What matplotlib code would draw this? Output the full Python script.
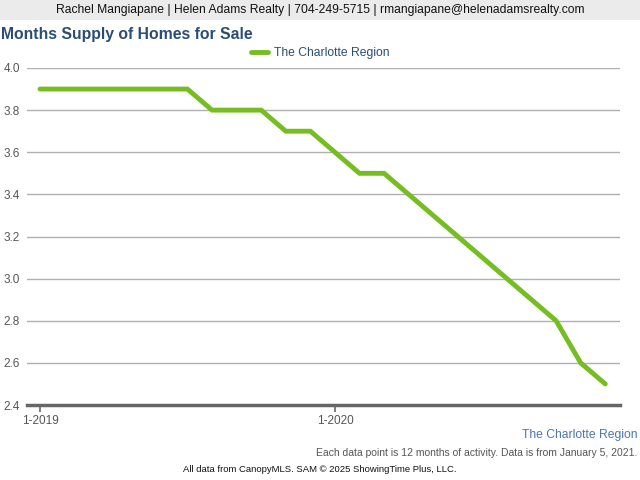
import matplotlib
matplotlib.use("Agg")
import matplotlib.pyplot as plt
from matplotlib.patches import Rectangle

plt.rcParams['font.family'] = ['Liberation Sans', 'DejaVu Sans']

months = list(range(24))
values = [3.9, 3.9, 3.9, 3.9, 3.9, 3.9, 3.9, 3.8, 3.8, 3.8, 3.7, 3.7,
          3.6, 3.5, 3.5, 3.4, 3.3, 3.2, 3.1, 3.0, 2.9, 2.8, 2.6, 2.5]
series_name = "The Charlotte Region"
xtick_pos = [0, 12]
xtick_labels = ["1-2019", "1-2020"]
yticks = [2.4, 2.6, 2.8, 3.0, 3.2, 3.4, 3.6, 3.8, 4.0]

fig = plt.figure(figsize=(6.4, 4.8), dpi=100)
fig.patch.set_facecolor('white')

# header band
fig.patches.append(Rectangle((0, 1 - 20/480), 1, 20/480, transform=fig.transFigure,
                             facecolor='#ebebeb', edgecolor='none', zorder=0))
fig.text(0.5, 1 - 10/480, "Rachel Mangiapane | Helen Adams Realty | 704-249-5715 | rmangiapane@helenadamsrealty.com",
         ha='center', va='center', fontsize=8.7, color='#111111')
fig.text(1/640, 1 - 34/480, "Months Supply of Homes for Sale", ha='left', va='center',
         fontsize=11.3, fontweight='bold', color='#2b4d72')

ax = fig.add_axes([27/640, 1 - 405/480, (620-27)/640, (405-68)/480])
ax.plot(months, values, color='#76bd22', linewidth=3.5, solid_capstyle='round',
        solid_joinstyle='miter', label=series_name, zorder=3)
ax.set_xlim(-0.53, 23.6)
ax.set_ylim(2.4, 4.0)
ax.set_yticks(yticks)
ax.set_yticklabels([f"{v:.1f}" for v in yticks])
ax.yaxis.grid(True, color='#b0b0b0', linewidth=1)
ax.set_axisbelow(True)
for s in ['top', 'right', 'left']:
    ax.spines[s].set_visible(False)
ax.spines['bottom'].set_color('#666666')
ax.spines['bottom'].set_linewidth(2.5)
ax.spines['bottom'].set_zorder(4)
ax.tick_params(axis='y', length=0, pad=5, labelsize=8.5, labelcolor='#555555')
ax.set_xticks(xtick_pos)
ax.set_xticklabels(xtick_labels)
ax.tick_params(axis='x', length=5, width=1.2, color='#666666', direction='out',
               labelsize=8.5, labelcolor='#555555', pad=2)

leg = fig.legend(loc='center', bbox_to_anchor=(0.5, 1 - 53/480), frameon=False,
                 fontsize=8.75, handlelength=1.4, handletextpad=0.5)
for t in leg.get_texts():
    t.set_color('#2b4d72')

fig.text(638/640, 1 - 435/480, series_name, ha='right', va='center', fontsize=8.7, color='#4a78ad')
fig.text(637/640, 1 - 453/480, "Each data point is 12 months of activity. Data is from January 5, 2021.",
         ha='right', va='center', fontsize=7.5, color='#555555')
fig.text(0.5, 1 - 469/480, "All data from CanopyMLS. SAM \u00a9 2025 ShowingTime Plus, LLC.",
         ha='center', va='center', fontsize=6.8, color='#111111')

fig.savefig("out.png", dpi=100)
